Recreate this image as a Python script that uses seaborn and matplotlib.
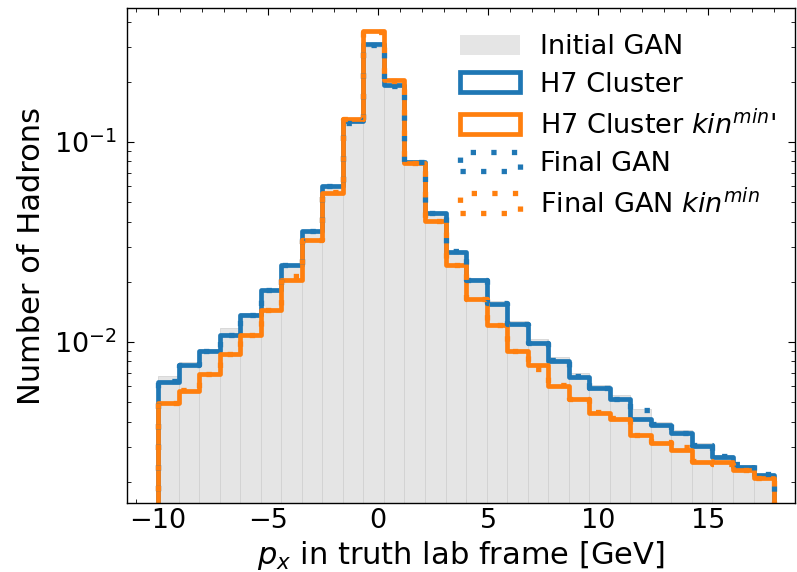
import numpy as np
import pandas as pd
import matplotlib
matplotlib.use("Agg")
import matplotlib.pyplot as plt
from matplotlib.patches import Patch
import seaborn as sns

# ---- data (normalised hadron counts per bin) ----
x_min, x_max, n_bins = -10.0, 18.0, 30

initial_gan = [0.00676, 0.00790, 0.00925, 0.01180, 0.01400, 0.01850, 0.02450, 0.03600,
               0.06000, 0.12600, 0.30000, 0.19000, 0.07900, 0.04400, 0.02850, 0.02100,
               0.01600, 0.01280, 0.01030, 0.00840, 0.00700, 0.00610, 0.00545, 0.00460,
               0.00400, 0.00362, 0.00312, 0.00272, 0.00244, 0.00218]
h7_cluster = [0.00633, 0.00767, 0.00905, 0.01084, 0.01365, 0.01820, 0.02430, 0.03590,
              0.06030, 0.12740, 0.30900, 0.19280, 0.07970, 0.04420, 0.02830, 0.02040,
              0.01549, 0.01230, 0.00985, 0.00806, 0.00671, 0.00587, 0.00519, 0.00412,
              0.00385, 0.00350, 0.00302, 0.00265, 0.00238, 0.00216]
h7_cluster_kin = [0.00494, 0.00571, 0.00692, 0.00868, 0.01084, 0.01445, 0.02040, 0.03240,
                  0.05580, 0.13030, 0.36000, 0.20420, 0.07820, 0.04040, 0.02430, 0.01635,
                  0.01216, 0.00902, 0.00767, 0.00606, 0.00518, 0.00443, 0.00412, 0.00341,
                  0.00313, 0.00288, 0.00252, 0.00252, 0.00229, 0.00208]
final_gan = [0.00640, 0.00770, 0.00900, 0.01084, 0.01360, 0.01830, 0.02420, 0.03600,
             0.06000, 0.12500, 0.30600, 0.19100, 0.07950, 0.04430, 0.02840, 0.02050,
             0.01560, 0.01230, 0.00990, 0.00810, 0.00675, 0.00590, 0.00520, 0.00459,
             0.00390, 0.00352, 0.00305, 0.00268, 0.00246, 0.00218]
final_gan_kin = [0.00494, 0.00575, 0.00695, 0.00870, 0.01090, 0.01450, 0.02140, 0.03250,
                 0.05600, 0.13100, 0.35500, 0.20300, 0.07850, 0.04050, 0.02440, 0.01640,
                 0.01220, 0.00905, 0.00734, 0.00610, 0.00520, 0.00445, 0.00415, 0.00343,
                 0.00315, 0.00298, 0.00254, 0.00246, 0.00230, 0.00208]

labels = ["Initial GAN", "H7 Cluster", "H7 Cluster $kin^{min}$'",
          "Final GAN", "Final GAN $kin^{min}$"]

# ---- bins ----
edges = np.linspace(x_min, x_max, n_bins + 1)
width = edges[1] - edges[0]
centers = 0.5 * (edges[:-1] + edges[1:])
# one empty bin on each side so the step outline drops to the axis
pad_edges = np.concatenate([[edges[0] - width], edges, [edges[-1] + width]])
pad_centers = 0.5 * (pad_edges[:-1] + pad_edges[1:])

df_init = pd.DataFrame({"px": centers, "w": initial_gan})

def padded_df(vals):
    return pd.DataFrame({"px": pad_centers,
                         "w": np.concatenate([[0.0], np.asarray(vals, float), [0.0]])})

sns.set_style("ticks")
plt.rcParams.update({
    "font.family": ["DejaVu Sans"],
    "text.color": "black", "axes.labelcolor": "black",
    "xtick.color": "black", "ytick.color": "black", "axes.edgecolor": "black",
    "xtick.direction": "in", "ytick.direction": "in",
    "xtick.top": True, "ytick.right": True,
    "xtick.minor.visible": True, "ytick.minor.visible": True,
    "axes.linewidth": 1.0,
})

BLUE, ORANGE, GRAY = "#1f77b4", "#ff7f0e", "#e5e5e5"
LW = 3.4
LW_DOT = 3.8
DOT = (0, (1, 2.9))

fig = plt.figure(figsize=(7.97, 5.72), dpi=100)
ax = fig.add_axes([0.1593, 0.1206, 0.9975 - 0.1593, 0.986 - 0.1206])
ax.set_yscale("log")

sns.histplot(data=df_init, x="px", weights="w", bins=list(edges), element="bars",
             fill=True, color=GRAY, edgecolor="#cfcfcf", linewidth=0.5, alpha=1.0, ax=ax)
for vals, col, ls, lw in [(h7_cluster, BLUE, "-", LW), (h7_cluster_kin, ORANGE, "-", LW),
                          (final_gan, BLUE, DOT, LW_DOT), (final_gan_kin, ORANGE, DOT, LW_DOT)]:
    sns.histplot(data=padded_df(vals), x="px", weights="w", bins=list(pad_edges),
                 element="step", fill=False, color=col, linewidth=lw, linestyle=ls, ax=ax)

ax.set_xlim(-11.41, 18.95)
ax.set_ylim(0.001567, 0.4677)
ax.set_xlabel("$p_x$ in truth lab frame [GeV]", fontsize=22)
ax.set_ylabel("Number of Hadrons", fontsize=22, labelpad=6)
ax.tick_params(axis="both", which="major", labelsize=19.5, length=5)
ax.tick_params(axis="y", which="major", pad=7)
ax.tick_params(axis="both", which="minor", length=3)

handles = [
    Patch(facecolor=GRAY, edgecolor="none"),
    Patch(facecolor="none", edgecolor=BLUE, linewidth=LW),
    Patch(facecolor="none", edgecolor=ORANGE, linewidth=LW),
    Patch(facecolor="none", edgecolor=BLUE, linewidth=LW_DOT, linestyle=DOT),
    Patch(facecolor="none", edgecolor=ORANGE, linewidth=LW_DOT, linestyle=DOT),
]
ax.legend(handles, labels, loc="upper right", bbox_to_anchor=(1.009, 0.996),
          frameon=False, fontsize=19.5, labelspacing=0.42, handlelength=2.2,
          handleheight=0.75, handletextpad=0.75, borderaxespad=0.5)

fig.savefig("out.png", dpi=100)
